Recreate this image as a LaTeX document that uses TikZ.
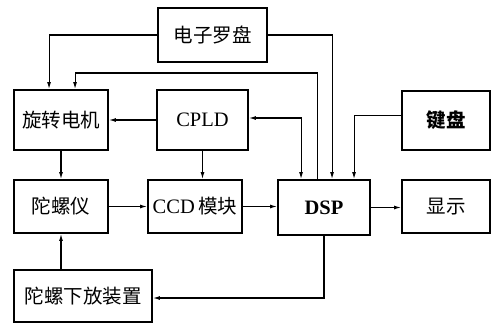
\documentclass[tikz,border=0pt]{standalone}
\usepackage{fontspec}
\setmainfont{Liberation Serif}
\newfontfamily\cjk{Noto Sans CJK SC}
\usetikzlibrary{arrows.meta}
\begin{document}
\begin{tikzpicture}[x=1pt,y=-1pt,
  blk/.style={draw,line width=1.9pt,rectangle,inner sep=0pt,font=\fontsize{19.5}{21}\selectfont},
  lat/.style={font=\fontsize{20.5}{22}\selectfont},
  arr/.style={line width=1.1pt,-{Latex[length=7pt,width=4pt]}},
  arrb/.style={line width=1.1pt,{Latex[length=7pt,width=4pt]}-{Latex[length=7pt,width=4pt]}}]
\useasboundingbox (0,0) rectangle (495,325);
\node[blk,minimum width=109pt,minimum height=54pt] (compass) at (212.5,35) {\cjk 电子罗盘};
\node[blk,minimum width=94pt,minimum height=60pt] (motor) at (61,120) {\cjk 旋转电机};
\node[blk,lat,minimum width=91pt,minimum height=60pt] (cpld) at (202.5,120) {CPLD};
\node[blk,minimum width=88pt,minimum height=59pt] (keyb) at (446,120.5) {\cjk\bfseries 键盘};
\node[blk,minimum width=94pt,minimum height=53pt] (gyro) at (61,206.5) {\cjk 陀螺仪};
\node[blk,lat,minimum width=94pt,minimum height=53pt] (ccd) at (195,206.5) {CCD\,{\cjk\fontsize{19.5}{21}\selectfont 模块}};
\node[blk,lat,minimum width=92pt,minimum height=55pt] (dsp) at (324,207.5) {\bfseries DSP};
\node[blk,minimum width=88pt,minimum height=53pt] (disp) at (446,206.5) {\cjk 显示};
\node[blk,minimum width=138pt,minimum height=52pt] (lower) at (83,296) {\cjk 陀螺下放装置};
\coordinate (topy) at (0,73);
% compass connections
\draw[arr] (compass.west) -| ([xshift=36pt]motor.north west);
\draw[arr] (compass.east) -| ([xshift=55pt]dsp.north west);
% DSP to motor
\draw[arr] ([xshift=40pt]dsp.north west) -- ([xshift=40pt]dsp.north west |- topy) -| ([xshift=62pt]motor.north west);
% CPLD <-> DSP
\draw[arrb] ([yshift=2pt]cpld.east) -| ([xshift=24pt]dsp.north west);
% keyboard
\draw[arr] ([yshift=5pt]keyb.west) -| ([xshift=77pt]dsp.north west);
% CPLD to motor
\draw[arr] (cpld.west) -- (motor.east);
% motor to gyro
\draw[arr] (motor.south) -- (gyro.north);
% CPLD to CCD
\draw[arr] (cpld.south) -- (cpld.south |- ccd.north);
% gyro -> CCD -> DSP -> display
\draw[arr] (gyro.east) -- (ccd.west);
\draw[arr] (ccd.east) -- (ccd.east -| dsp.west);
\draw[arr] (dsp.east) -- (dsp.east -| disp.west);
% DSP to lower
\draw[arr] (dsp.south) |- ([yshift=-2pt]lower.east);
% lower to gyro
\draw[arr] (lower.north -| gyro.south) -- (gyro.south);
\end{tikzpicture}
\end{document}
